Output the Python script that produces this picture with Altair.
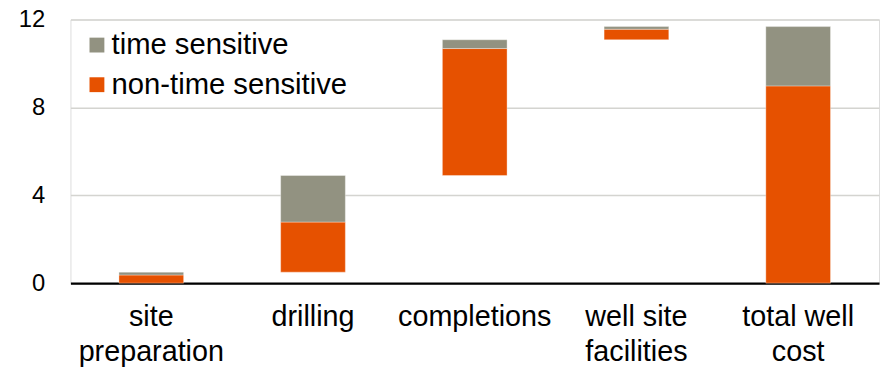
import altair as alt
import pandas as pd

categories = ["site preparation", "drilling", "completions", "well site facilities", "total well cost"]
label_lines = [["site", "preparation"], ["drilling"], ["completions"], ["well site", "facilities"], ["total well", "cost"]]
non_time_sensitive = [0.37, 2.28, 5.78, 0.48, 8.98]
time_sensitive = [0.13, 2.12, 0.40, 0.12, 2.70]
is_total = [False, False, False, False, True]
series_names = ["time sensitive", "non-time sensitive"]
series_colors = ["#929281", "#E65100"]

rows = []
base = 0.0
for cat, nt, ts, tot in zip(categories, non_time_sensitive, time_sensitive, is_total):
    start = 0.0 if tot else base
    rows.append({"category": cat, "series": "non-time sensitive", "y0": start, "y1": start + nt})
    rows.append({"category": cat, "series": "time sensitive", "y0": start + nt, "y1": start + nt + ts})
    if not tot:
        base = start + nt + ts
df = pd.DataFrame(rows)

label_map = {c: l for c, l in zip(categories, label_lines)}
expr_parts = []
for c, l in label_map.items():
    arr = "[" + ",".join("'" + s + "'" for s in l) + "]"
    expr_parts.append(f"datum.value == '{c}' ? {arr} : ")
label_expr = "".join(expr_parts) + "datum.value"

FONT = "Liberation Sans"

chart = alt.Chart(df).mark_bar(stroke="#ffffff", strokeOpacity=0.35, strokeWidth=1).encode(
    x=alt.X("category:N", sort=categories, title=None,
            scale=alt.Scale(paddingInner=0.6, paddingOuter=0.3),
            axis=alt.Axis(labelAngle=0, labelExpr=label_expr, labelFontSize=29, labelFont=FONT,
                          labelColor="#000000", labelLineHeight=35, labelPadding=20, ticks=False,
                          domainColor="#000000", domainWidth=2.5, grid=False, labelBaseline="top",
                          labelLimit=300)),
    y=alt.Y("y0:Q", title=None,
            scale=alt.Scale(domain=[0, 12], nice=False, zero=True),
            axis=alt.Axis(values=[0, 4, 8, 12], labelFontSize=24, labelFont=FONT, labelColor="#000000",
                          labelPadding=26, ticks=False, domain=False, gridColor="#d4d4d0", gridWidth=1.5)),
    y2="y1:Q",
    color=alt.Color("series:N", sort=series_names,
                    scale=alt.Scale(domain=series_names, range=series_colors),
                    legend=alt.Legend(title=None, orient="none", legendX=12, legendY=11, padding=0,
                                      symbolType="square", symbolSize=225, symbolStrokeWidth=0,
                                      labelFontSize=29.5, labelFont=FONT, labelColor="#000000",
                                      labelLimit=400, labelOffset=0, rowPadding=9)),
).properties(
    width=816, height=266,
    autosize=alt.AutoSizeParams(type="none"),
    padding={"left": 63, "top": 10, "right": 3, "bottom": 86},
).configure_view(stroke=None).configure(background="#ffffff")

chart.save("out.html", embed_options={"renderer": "svg", "actions": False})
